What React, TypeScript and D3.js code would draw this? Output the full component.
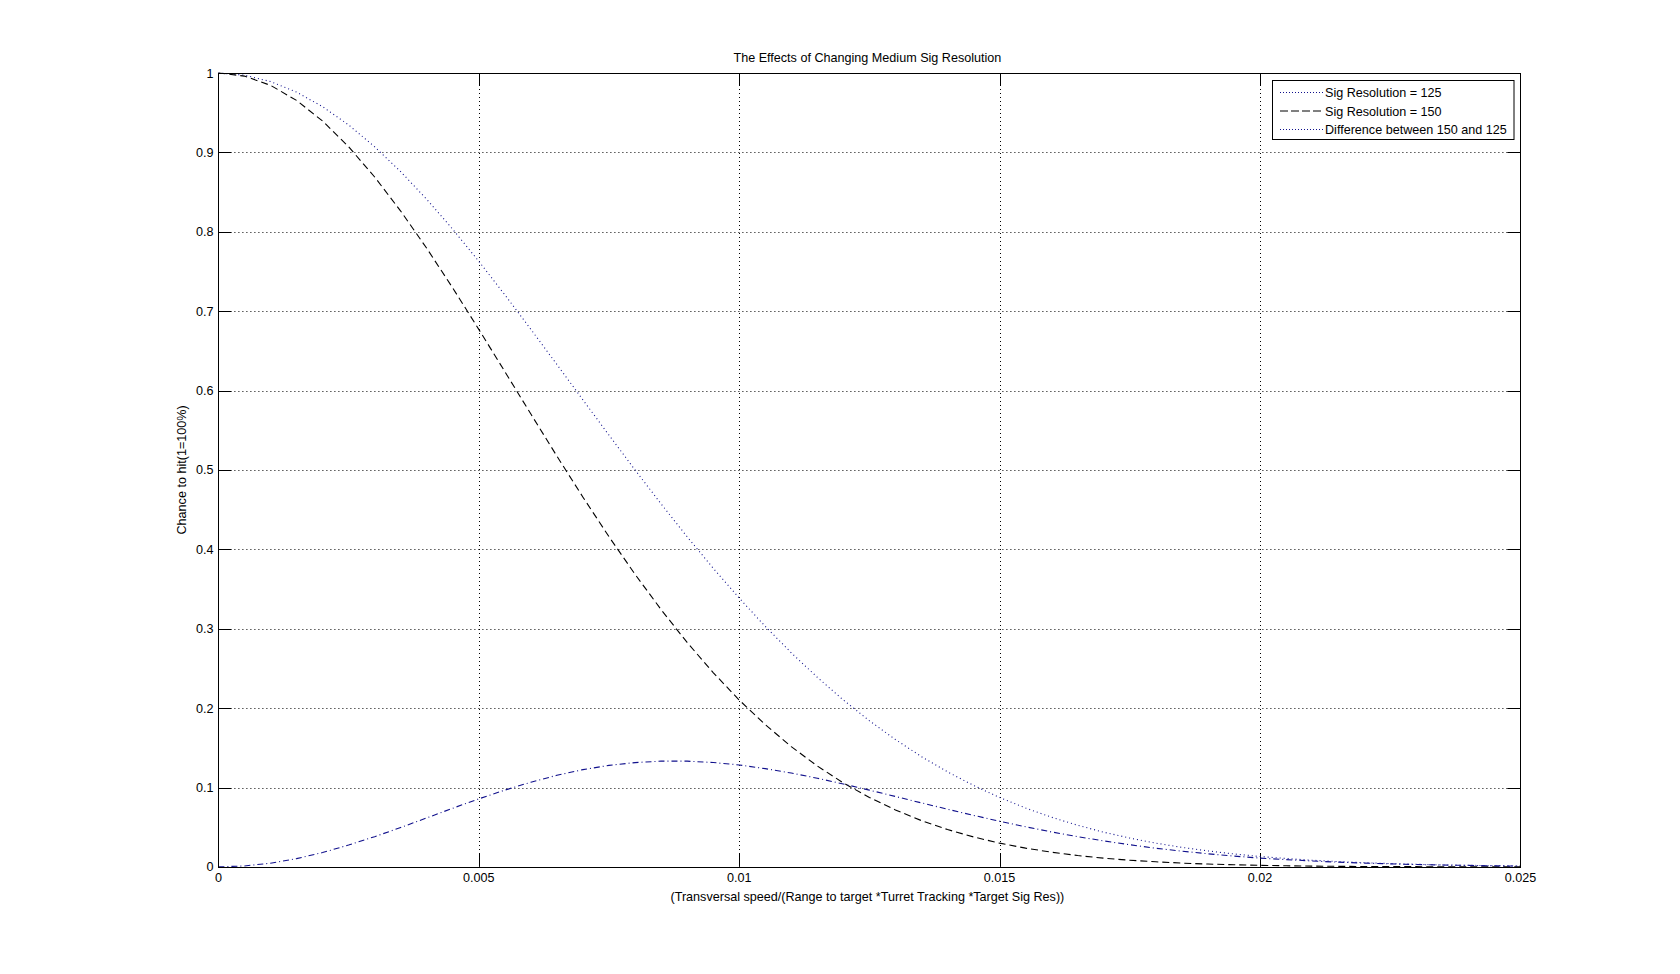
import React from "react";
import * as d3 from "d3";

const xValues = [
  0, 0.0005, 0.001, 0.0015, 0.002, 0.0025, 0.003, 0.0035, 0.004, 0.0045,
  0.005, 0.0055, 0.006, 0.0065, 0.007, 0.0075, 0.008, 0.0085, 0.009, 0.0095,
  0.01, 0.0105, 0.011, 0.0115, 0.012, 0.0125, 0.013, 0.0135, 0.014, 0.0145,
  0.015, 0.0155, 0.016, 0.0165, 0.017, 0.0175, 0.018, 0.0185, 0.019, 0.0195,
  0.02, 0.0205, 0.021, 0.0215, 0.022, 0.0225, 0.023, 0.0235, 0.024, 0.0245, 0.025,
];
const sig125 = [
  1, 0.9973, 0.9892, 0.9759, 0.9576, 0.9346, 0.9071, 0.8757, 0.8409, 0.8031,
  0.7628, 0.7206, 0.6771, 0.6328, 0.5882, 0.5438, 0.5, 0.4573, 0.4159, 0.3763,
  0.3386, 0.303, 0.2697, 0.2388, 0.2102, 0.1841, 0.1604, 0.1389, 0.1197, 0.1026,
  0.0874, 0.0741, 0.0625, 0.0524, 0.0437, 0.0363, 0.0299, 0.0246, 0.0201, 0.0163,
  0.0131, 0.0106, 0.0084, 0.0067, 0.0053, 0.0042, 0.0033, 0.0025, 0.002, 0.0015, 0.0011,
];
const sig150 = [
  1, 0.9961, 0.9845, 0.9655, 0.9395, 0.9071, 0.869, 0.8261, 0.7792, 0.7292,
  0.6771, 0.6239, 0.5704, 0.5174, 0.4657, 0.4159, 0.3686, 0.3241, 0.2827, 0.2448,
  0.2102, 0.1792, 0.1515, 0.1271, 0.1058, 0.0874, 0.0717, 0.0583, 0.047, 0.0377,
  0.0299, 0.0236, 0.0185, 0.0143, 0.011, 0.0084, 0.0064, 0.0048, 0.0036, 0.0027,
  0.002, 0.0014, 0.001, 0.0007, 0.0005, 0.0004, 0.0003, 0.0002, 0.0001, 0.0001, 0.0001,
];
const difference = [
  0, 0.0012, 0.0047, 0.0104, 0.0181, 0.0275, 0.0381, 0.0496, 0.0617, 0.0739,
  0.0857, 0.0967, 0.1067, 0.1154, 0.1225, 0.1279, 0.1314, 0.1332, 0.1332, 0.1315,
  0.1284, 0.1238, 0.1182, 0.1117, 0.1044, 0.0967, 0.0887, 0.0806, 0.0727, 0.0649,
  0.0575, 0.0505, 0.044, 0.0381, 0.0327, 0.0279, 0.0235, 0.0198, 0.0165, 0.0136,
  0.0111, 0.0092, 0.0074, 0.006, 0.0048, 0.0038, 0.003, 0.0023, 0.0019, 0.0014, 0.001,
];
const xTicks = [0, 0.005, 0.01, 0.015, 0.02, 0.025];
const xTickLabels = ["0", "0.005", "0.01", "0.015", "0.02", "0.025"];
const yTicks = [0, 0.1, 0.2, 0.3, 0.4, 0.5, 0.6, 0.7, 0.8, 0.9, 1];
const yTickLabels = ["0", "0.1", "0.2", "0.3", "0.4", "0.5", "0.6", "0.7", "0.8", "0.9", "1"];
const seriesNames = ["Sig Resolution = 125", "Sig Resolution = 150", "Difference between 150 and 125"];
const titleText = "The Effects of Changing Medium Sig Resolution";
const xLabelText = "(Transversal speed/(Range to target *Turret Tracking *Target Sig Res))";
const yLabelText = "Chance to hit(1=100%)";

const W = 1680;
const H = 974;
const L = 218.4;
const R = 1520.4;
const T = 73;
const B = 866.9;
const FONT = "'Liberation Sans', Arial, Helvetica, sans-serif";
const FS = 12.6;
const BLUE = "#10108c";

export default function App() {
  const x = d3.scaleLinear().domain([0, 0.025]).range([L, R]);
  const y = d3.scaleLinear().domain([0, 1]).range([B, T]);
  const mk = (vals: number[]) =>
    d3
      .line<number>()
      .x((_, i) => x(xValues[i]))
      .y((v) => y(v))(vals) || "";

  const series = [
    { name: seriesNames[0], vals: sig125, color: BLUE, dash: "1,3", legDash: "1,2" },
    { name: seriesNames[1], vals: sig150, color: "#000", dash: "7,4", legDash: "8,3" },
    { name: seriesNames[2], vals: difference, color: BLUE, dash: "6,3,1,3", legDash: "1,2" },
  ];
  const tickLen = 13;
  const legX = 1272.5;
  const legY = 80.5;
  const legW = 241.5;
  const legH = 59;

  return (
    <svg
      width={W}
      height={H}
      style={{ position: "absolute", left: 0, top: 0, background: "#fff" }}
      fontFamily={FONT}
    >
      <rect x={0} y={0} width={W} height={H} fill="#fff" />
      {/* grid */}
      <g stroke="#000" strokeWidth={1} strokeDasharray="1,3">
        {xTicks.slice(1, -1).map((t) => (
          <line key={"gx" + t} x1={Math.round(x(t)) + 0.5} x2={Math.round(x(t)) + 0.5} y1={T} y2={B} />
        ))}
        {yTicks.slice(1, -1).map((t) => (
          <line key={"gy" + t} x1={L} x2={R} y1={Math.round(y(t)) + 0.5} y2={Math.round(y(t)) + 0.5} />
        ))}
      </g>
      {/* ticks */}
      <g stroke="#000" strokeWidth={1}>
        {xTicks.map((t) => {
          const px = Math.round(x(t)) + 0.5;
          return (
            <g key={"tx" + t}>
              <line x1={px} x2={px} y1={B} y2={B - tickLen} />
              <line x1={px} x2={px} y1={T} y2={T + tickLen} />
            </g>
          );
        })}
        {yTicks.map((t) => {
          const py = Math.round(y(t)) + 0.5;
          return (
            <g key={"ty" + t}>
              <line x1={L} x2={L + tickLen} y1={py} y2={py} />
              <line x1={R} x2={R - tickLen} y1={py} y2={py} />
            </g>
          );
        })}
      </g>
      {/* data lines */}
      {series.map((s) => (
        <path key={s.name} d={mk(s.vals)} fill="none" stroke={s.color} strokeWidth={1.1} strokeDasharray={s.dash} />
      ))}
      {/* axes box */}
      <rect x={Math.round(L) + 0.5} y={Math.round(T) + 0.5} width={Math.round(R - L)} height={Math.round(B - T)} fill="none" stroke="#000" strokeWidth={1} />
      {/* tick labels */}
      <g fontSize={FS} fill="#000">
        {xTicks.map((t, i) => (
          <text key={"lx" + t} x={x(t)} y={B + 15} textAnchor="middle">
            {xTickLabels[i]}
          </text>
        ))}
        {yTicks.map((t, i) => (
          <text key={"ly" + t} x={L - 5} y={y(t) + 4.5} textAnchor="end">
            {yTickLabels[i]}
          </text>
        ))}
      </g>
      {/* title and labels */}
      <text x={(L + R) / 2 - 2} y={62} textAnchor="middle" fontSize={FS}>
        {titleText}
      </text>
      <text x={(L + R) / 2 - 2} y={901} textAnchor="middle" fontSize={FS}>
        {xLabelText}
      </text>
      <text transform={`translate(186,${(T + B) / 2}) rotate(-90)`} textAnchor="middle" fontSize={FS}>
        {yLabelText}
      </text>
      {/* legend */}
      <rect x={legX} y={legY} width={legW} height={legH} fill="#fff" stroke="#000" strokeWidth={1} />
      {series.map((s, i) => {
        const cy = 92.5 + i * 18.5;
        return (
          <g key={"leg" + i}>
            <line x1={1280} x2={1323} y1={cy} y2={cy} stroke={s.color} strokeWidth={1} strokeDasharray={s.legDash} />
            <text x={1325} y={cy + 4.5} fontSize={FS}>
              {s.name}
            </text>
          </g>
        );
      })}
    </svg>
  );
}
